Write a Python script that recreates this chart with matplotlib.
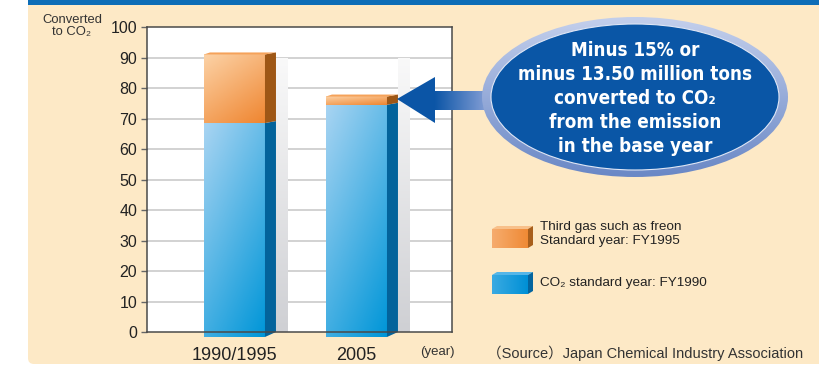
import numpy as np
import matplotlib
matplotlib.use('Agg')
import matplotlib.pyplot as plt
from matplotlib.patches import Rectangle, Polygon, Ellipse, FancyBboxPatch
from matplotlib.colors import LinearSegmentedColormap
from matplotlib import font_manager

# emissions converted to CO2 (index, base year = ~91)
years = ['1990/1995', '2005']
co2 = [68.5, 74.5]
third_gas = [22.5, 2.7]
yticks = list(range(0, 101, 10))
callout = ['Minus 15% or', 'minus 13.50 million tons', 'converted to CO\u2082',
           'from the emission', 'in the base year']
legend_labels = ['Third gas such as freon\nStandard year: FY1995',
                 'CO\u2082 standard year: FY1990']

fonts = font_manager.fontManager.ttflist
names = {f.name for f in fonts}
SANS = ['Liberation Sans', 'DejaVu Sans']
narrow_stretch = 'normal'
if 'Liberation Sans Narrow' in names:
    NARROW, narrow_size = ['Liberation Sans Narrow', 'DejaVu Sans'], 17
elif any(f.name == 'DejaVu Sans' and f.stretch == 'condensed' for f in fonts):
    NARROW, narrow_size, narrow_stretch = ['DejaVu Sans'], 13.5, 'condensed'
else:
    NARROW, narrow_size = SANS, 14.5
plt.rcParams['font.family'] = SANS

W, H = 820, 367
fig = plt.figure(figsize=(W / 100, H / 100), dpi=100)
fig.patch.set_facecolor('white')


def frac(x0, y0, x1, y1):
    return [x0 / W, 1 - y1 / H, (x1 - x0) / W, (y1 - y0) / H]


def gradient(ax, extent, c0, c1, clip=None, diag=False, z=3, vertical=True):
    # c0 at top/left, c1 at bottom/right
    n = 64
    t = np.linspace(0, 1, n)
    if diag:
        g = (t[None, :] * 0.5 + t[:, None] * 0.8) / 1.3
    elif vertical:
        g = np.repeat(t[:, None], n, axis=1)
    else:
        g = np.repeat(t[None, :], n, axis=0)
    cmap = LinearSegmentedColormap.from_list('g', [c0, c1])
    im = ax.imshow(g, cmap=cmap, extent=extent, aspect='auto',
                   origin='upper', zorder=z, interpolation='bilinear',
                   vmin=0, vmax=1)
    if clip is not None:
        im.set_clip_path(clip)
    return im


# background panel
bg = fig.add_axes([0, 0, 1, 1], zorder=0)
bg.set_xlim(0, W)
bg.set_ylim(H, 0)
bg.axis('off')
bg.add_patch(FancyBboxPatch((28, -20), W + 20, 20 + 364, boxstyle='round,pad=0,rounding_size=6',
                            fc='#fde9c6', ec='none'))
bg.add_patch(Rectangle((28, 0), W, 4.5, fc='#0d6db7', ec='none'))

# main chart
ax = fig.add_axes(frac(147, 27, 452, 332), zorder=1)
ax.set_facecolor('white')
px_x = 1 / 122.0      # data units per pixel
px_y = 100 / 305.0
bw = 0.5
x = np.arange(len(years))
base = -5 * px_y

for v in yticks[1:-1]:
    ax.axhline(v, color='#cfcfcf', lw=1.3, zorder=1)

blue_side = '#03639b'
orange_side = '#9e5716'
for i in range(len(years)):
    xr = x[i] + bw / 2
    # shadow wall behind each bar
    wall = Rectangle((xr + 11 * px_x, 0), 12 * px_x, 90, fc='none', ec='none')
    ax.add_patch(wall)
    gradient(ax, [xr + 11 * px_x, xr + 23 * px_x, 0, 92], '#fafafa', '#cfd0d4', clip=wall, z=2)

bars_b = ax.bar(x, [c - base for c in co2], bottom=base, width=bw, color='#0096d8',
                zorder=3, clip_on=False, lw=0)
bars_o = ax.bar(x, third_gas, bottom=co2, width=bw, color='#f08a33',
                zorder=3, clip_on=False, lw=0)

for i, (pb, po) in enumerate(zip(bars_b, bars_o)):
    x0 = pb.get_x()
    x1 = x0 + pb.get_width()
    top_b = co2[i]
    top_o = co2[i] + third_gas[i]
    # front faces with gradient
    gb = gradient(ax, [x0, x1, base, top_b], '#a8d4f2', '#0096d8', clip=pb, diag=True, z=4)
    gb.set_clip_on(False)
    go = gradient(ax, [x0, x1, top_b, top_o], '#fcd2a6', '#ef8631', clip=po, diag=True, z=4)
    go.set_clip_on(False)
    dx = 11 * px_x
    # side faces
    ax.add_patch(Polygon([(x1, base), (x1 + dx, base + 5 * px_y), (x1 + dx, top_b + 2 * px_y),
                          (x1, top_b)], closed=True, fc=blue_side, ec='none', zorder=5,
                         clip_on=False))
    ax.add_patch(Polygon([(x1, top_b), (x1 + dx, top_b + 2 * px_y), (x1 + dx, top_o + 2 * px_y),
                          (x1, top_o)], closed=True, fc=orange_side, ec='none', zorder=5,
                         clip_on=False))
    # top face
    ax.add_patch(Polygon([(x0, top_o), (x1, top_o), (x1 + dx, top_o + 2 * px_y),
                          (x0 + 6 * px_x, top_o + 2 * px_y)], closed=True, fc='#f5a25a',
                         ec='none', zorder=5, clip_on=False))

ax.set_xlim(-0.717, 1.783)
ax.set_ylim(0, 100)
ax.set_yticks(yticks)
ax.set_xticks(x)
ax.set_xticklabels(years, fontsize=13, color='#222222')
ax.tick_params(axis='x', length=0, pad=11)
ax.tick_params(axis='y', length=4, width=1, color='#666666', labelsize=11.5,
               labelcolor='#222222', pad=3)
for s in ax.spines.values():
    s.set_color('#4a4a4a')
    s.set_linewidth(1.1)
    s.set_zorder(6)

# overlay: labels, legend, callout
ov = fig.add_axes([0, 0, 1, 1], zorder=2)
ov.set_xlim(0, W)
ov.set_ylim(H, 0)
ov.axis('off')
ov.patch.set_alpha(0)

ov.text(72, 26, 'Converted\nto CO\u2082', ha='center', va='center', fontsize=9.4,
        color='#333333', linespacing=1.05)
ov.text(437, 352, '(year)', ha='center', va='center', fontsize=9.5, color='#333333')
ov.text(645, 353, '\uff08Source\uff09Japan Chemical Industry Association', ha='center',
        va='center', fontsize=10.5, color='#333333',
        family=['Liberation Sans', 'Noto Sans CJK JP', 'DejaVu Sans'])


def legend_box(y0, front0, front1, side, topc):
    x0, x1, d = 492, 528, 5
    ov.add_patch(Polygon([(x0, y0), (x0 + d, y0 - 3), (x1 + d, y0 - 3), (x1, y0)],
                         fc=topc, ec='none'))
    ov.add_patch(Polygon([(x1, y0), (x1 + d, y0 - 3), (x1 + d, y0 + 16), (x1, y0 + 19)],
                         fc=side, ec='none'))
    r = Rectangle((x0, y0), x1 - x0, 19, fc='none', ec='none')
    ov.add_patch(r)
    gradient(ov, [x0, x1, y0 + 19, y0], front0, front1, clip=r, vertical=False, z=2)


legend_box(229, '#f6ac6e', '#ef8a35', '#a85f1c', '#f8c08a')
legend_box(275, '#3aaae2', '#0090d6', '#04659f', '#55b6e8')
ov.text(540, 234, legend_labels[0], ha='left', va='center', fontsize=9.7,
        color='#222222', linespacing=1.2)
ov.text(540, 283, legend_labels[1], ha='left', va='center', fontsize=9.7, color='#222222')

# arrow from callout to the 2005 bar
ov.add_patch(Polygon([(397, 99), (435, 77), (435, 123)], fc='#0b55a6', ec='none', zorder=3))
shaft = Rectangle((434, 91), 56, 19, fc='none', ec='none')
ov.add_patch(shaft)
gradient(ov, [434, 490, 110, 91], '#0b55a6', '#8aa2d8', clip=shaft, vertical=False, z=3)

# callout ellipse with shaded rim
cx, cy = 635, 97
rim = Ellipse((cx, cy), 306, 160, fc='none', ec='none', zorder=4)
ov.add_patch(rim)
gradient(ov, [cx - 153, cx + 153, cy + 80, cy - 80], '#c3cfec', '#6a88c6', clip=rim, z=4)
ov.add_patch(Ellipse((cx, cy), 288, 146, fc='#0a56a6', ec='#dfe6f5', lw=0.8, zorder=5))
for k, line in enumerate(callout):
    ov.text(cx, 51 + 24 * k, line, ha='center', va='center', color='white',
            fontsize=narrow_size, fontweight='bold', family=NARROW,
            fontstretch=narrow_stretch, zorder=6)

fig.savefig('out.png', dpi=100)
